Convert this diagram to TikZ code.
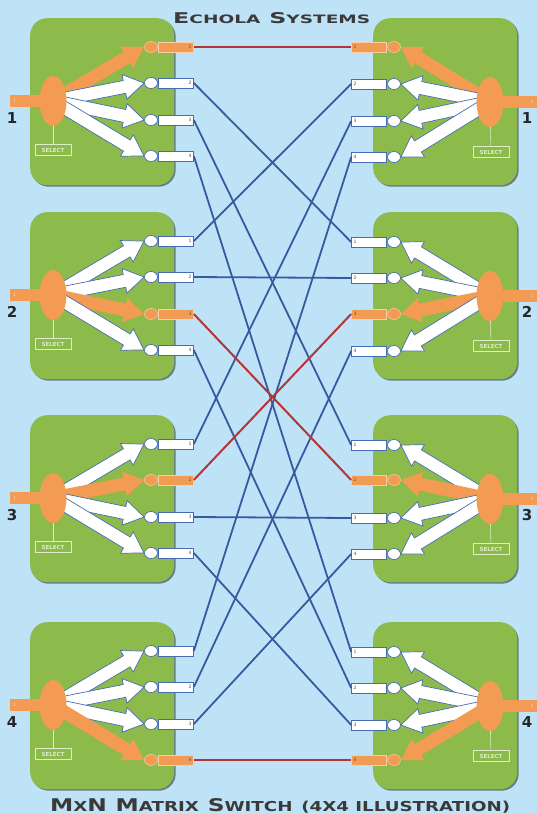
\documentclass[tikz,border=0pt]{standalone}
\usepackage{fontspec}
\usepackage{graphicx}
\setmainfont{DejaVu Sans}
\usetikzlibrary{calc,shapes.geometric,shadows}
\definecolor{bgblue}{RGB}{190,227,247}
\definecolor{blockgreen}{RGB}{140,186,75}
\definecolor{selorange}{RGB}{243,155,82}
\definecolor{portblue}{RGB}{72,108,178}
\definecolor{lineblue}{RGB}{58,88,160}
\definecolor{linered}{RGB}{180,52,56}
\definecolor{titlegray}{RGB}{58,58,58}
\definecolor{selgreen}{RGB}{222,236,200}
\pgfdeclarelayer{back}
\pgfdeclarelayer{mid}
\pgfsetlayers{back,mid,main}
\newcommand\capbig[1]{{\fontsize{16}{16}\selectfont #1}}
\newcommand\capsmall[1]{{\fontsize{12.5}{12}\selectfont\MakeUppercase{#1}}}
\newcommand\fatarrow[3]{%
  \path let \p1=($(#3)-(#2)$) in \pgfextra{%
    \pgfmathsetmacro\faang{atan2(\y1,\x1)}%
    \pgfmathsetmacro\falen{veclen(\x1,\y1)}%
    \xdef\faangg{\faang}\xdef\falenn{\falen}};
  \begin{scope}[shift={(#2)},rotate=\faangg]
    \path[#1] (0pt,-6.5pt) -- ({\falenn pt-20pt},-6.5pt) -- ({\falenn pt-20pt},-12.5pt)
      -- (\falenn pt,0pt) -- ({\falenn pt-20pt},12.5pt) -- ({\falenn pt-20pt},6.5pt)
      -- (0pt,6.5pt) -- cycle;
  \end{scope}}
\tikzset{
  block/.style={fill=blockgreen, rounded corners=17pt, minimum width=144pt,
    minimum height=167pt, anchor=north west, inner sep=0pt,
    drop shadow={shadow xshift=1.5pt, shadow yshift=-1.5pt, fill=black, opacity=0.45}},
  sellipse/.style={ellipse, fill=selorange, minimum width=27pt, minimum height=50pt, inner sep=0pt},
  bar/.style={rectangle, fill=selorange, minimum width=38pt, minimum height=12pt, inner xsep=3pt,
    inner ysep=0pt, text width=32pt, font=\fontsize{4.5}{5}\selectfont, text=selorange!40!white},
  bignum/.style={inner sep=0pt, font=\fontsize{15}{15}\selectfont\bfseries, text=black!85},
  selbox/.style={draw=selgreen, line width=0.6pt, fill=blockgreen, minimum width=36pt,
    minimum height=11pt, inner sep=0pt, font=\fontsize{5.5}{5.5}\selectfont\bfseries, text=selgreen},
  selline/.style={draw=selgreen, line width=0.6pt},
  pcirc/.style={ellipse, draw=portblue, line width=0.7pt, fill=white, minimum width=13pt,
    minimum height=11pt, inner sep=0pt},
  pcircsel/.style={pcirc, draw=selorange!60!white, fill=selorange},
  pbox/.style={rectangle, draw=portblue, line width=0.8pt, fill=white, minimum height=10pt,
    text width=31pt, inner xsep=2pt, inner ysep=0pt, font=\fontsize{4.5}{5}\selectfont, text=black!70},
  pboxsel/.style={pbox, fill=selorange, draw=selorange!50!white},
  warrow/.style={fill=white, draw=portblue, line width=0.7pt},
  oarrow/.style={fill=selorange},
  conn/.style={draw=lineblue, line width=1.8pt},
  connsel/.style={draw=linered, line width=2pt},
  titletext/.style={inner sep=0pt, text=titlegray}
}
\begin{document}
\begin{tikzpicture}[x=1pt,y=-1pt]
\path[use as bounding box] (0,0) rectangle (537,814);
\begin{pgfonlayer}{back}
  \fill[bgblue] (0,0) rectangle (537,814);
\end{pgfonlayer}
\foreach \i/\T/\s in {1/18/1,2/212/3,3/415/2,4/622/4}{
  \begin{pgfonlayer}{back}
    \node[block] (LB\i) at (30,\T) {};
    \node[block] (RB\i) at (373,\T) {};
  \end{pgfonlayer}
  \begin{pgfonlayer}{mid}
    \node[bar, anchor=west, align=left] (Lbar\i) at (10,{\T+83}) {1};
    \node[bar, anchor=east, align=right] (Rbar\i) at (537,{\T+84}) {1};
  \end{pgfonlayer}
  \node[sellipse] (Le\i) at (53,{\T+83}) {};
  \node[sellipse] (Re\i) at (490,{\T+84}) {};
  \node[bignum] (Ln\i) at (12,{\T+100}) {\i};
  \node[bignum] (Rn\i) at (527,{\T+100}) {\i};
  \node[selbox] (Ls\i) at (53,{\T+132}) {SELECT};
  \node[selbox] (Rs\i) at (491,{\T+134}) {SELECT};
  \draw[selline] (Le\i) -- (Ls\i);
  \draw[selline] (Re\i) -- (Rs\i);
  \foreach \j/\o in {1/29,2/65,3/102,4/138}{
    \ifnum\j=\s
      \node[pcircsel] (Lc\i\j) at (151,{\T+\o}) {};
      \node[pboxsel, anchor=west, align=right] (Lb\i\j) at (158,{\T+\o}) {\j};
      \node[pcircsel] (Rc\i\j) at (394,{\T+\o}) {};
      \node[pboxsel, anchor=east, align=left] (Rb\i\j) at (387,{\T+\o}) {\j};
      \begin{pgfonlayer}{mid}
        \fatarrow{oarrow}{Le\i.center}{Lc\i\j.west}
        \fatarrow{oarrow}{Re\i.center}{Rc\i\j.east}
      \end{pgfonlayer}
    \else
      \node[pcirc] (Lc\i\j) at (151,{\T+\o}) {};
      \ifnum\i\j=41
        \node[pbox, anchor=west, align=right] (Lb\i\j) at (158,{\T+\o}) {};
      \else
        \node[pbox, anchor=west, align=right] (Lb\i\j) at (158,{\T+\o}) {\j};
      \fi
      \node[pcirc] (Rc\i\j) at (394,{\T+\o+1}) {};
      \node[pbox, anchor=east, align=left] (Rb\i\j) at (387,{\T+\o+1}) {\j};
      \begin{pgfonlayer}{mid}
        \fatarrow{warrow}{Le\i.center}{Lc\i\j.west}
        \fatarrow{warrow}{Re\i.center}{Rc\i\j.east}
      \end{pgfonlayer}
    \fi
  }
}
\foreach \i/\s in {1/1,2/3,3/2,4/4}{
  \foreach \j in {1,2,3,4}{
    \ifnum\j=\s\else
      \draw[conn] (Lb\i\j.east) -- (Rb\j\i.west);
    \fi
  }
}
\foreach \i/\s in {1/1,2/3,3/2,4/4}{
  \draw[connsel] (Lb\i\s.east) -- (Rb\s\i.west);
}
\node[titletext, anchor=base west] (title) at (173,23)
  {\resizebox{197pt}{11pt}{\bfseries\capbig{E}\capsmall{chola}\hspace{6pt}\capbig{S}\capsmall{ystems}}};
\node[titletext, anchor=base west] (caption) at (50,811)
  {\resizebox{460pt}{13pt}{\bfseries\capbig{M}\capsmall{x}\capbig{N}\hspace{6pt}\capbig{M}\capsmall{atrix}\hspace{6pt}\capbig{S}\capsmall{witch}\hspace{6pt}\capsmall{(4x4 illustration)}}};
\end{tikzpicture}
\end{document}
